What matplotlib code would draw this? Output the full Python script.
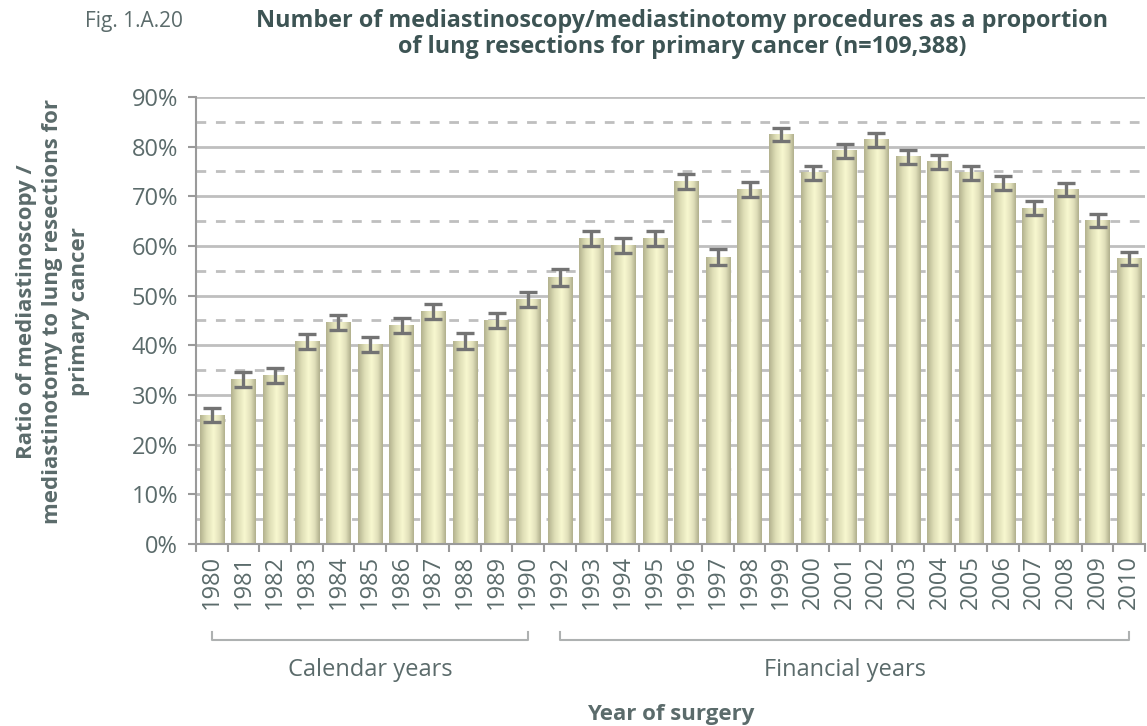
import numpy as np
import matplotlib
matplotlib.use("Agg")
import matplotlib.pyplot as plt
from matplotlib.ticker import MultipleLocator, FuncFormatter, FixedLocator
from matplotlib.colors import LinearSegmentedColormap
import matplotlib.transforms as mtransforms

# data (percent)
years = ['1980', '1981', '1982', '1983', '1984', '1985', '1986', '1987', '1988', '1989', '1990',
         '1992', '1993', '1994', '1995', '1996', '1997', '1998', '1999', '2000', '2001',
         '2002', '2003', '2004', '2005', '2006', '2007', '2008', '2009', '2010']
ratio = [25.9, 33.2, 34.0, 40.8, 44.6, 40.2, 44.0, 46.8, 40.8, 45.0, 49.2,
         53.7, 61.5, 60.1, 61.5, 73.0, 57.7, 71.4, 82.4, 74.7, 79.2,
         81.4, 78.0, 77.0, 74.7, 72.6, 67.6, 71.4, 65.1, 57.5]
err = [1.4, 1.5, 1.5, 1.55, 1.55, 1.5, 1.5, 1.6, 1.6, 1.55, 1.55,
       1.75, 1.6, 1.6, 1.6, 1.55, 1.6, 1.45, 1.35, 1.5, 1.4,
       1.4, 1.4, 1.4, 1.4, 1.4, 1.4, 1.3, 1.35, 1.3]
groups = [('Calendar years', '1980', '1990'), ('Financial years', '1992', '2010')]

title = ('Number of mediastinoscopy/mediastinotomy procedures as a proportion\n'
         'of lung resections for primary cancer (n=109,388)')
fig_label = 'Fig. 1.A.20'
ylabel = 'Ratio of mediastinoscopy /\nmediastinotomy to lung resections for\nprimary cancer'
xlabel = 'Year of surgery'

plt.rcParams['font.family'] = ['Open Sans', 'DejaVu Sans']
text_col = '#5b6b6b'
title_col = '#3d5454'
grid_col = '#bfbfbf'
axis_col = '#9a9a9a'

fig = plt.figure(figsize=(11.47, 7.26), dpi=100)
ax = fig.add_axes([0.1709, 0.2507, 0.8274, 0.6157])

x = np.arange(len(years))
vals = np.array(ratio) / 100
errs = np.array(err) / 100
width = 0.77

bars = ax.bar(x, vals, width=width, color='none', edgecolor='none', zorder=2)

# horizontal shading on each bar
cmap = LinearSegmentedColormap.from_list('barshade', [
    (0.0, '#b3b28f'), (0.25, '#dcdcb4'), (0.55, '#f8f8d0'), (0.8, '#e0dfba'), (1.0, '#b0af8c')])
grad = np.linspace(0, 1, 64).reshape(1, -1)
for b in bars:
    x0 = b.get_x()
    ax.imshow(grad, cmap=cmap, aspect='auto', zorder=2,
              extent=[x0, x0 + b.get_width(), 0, b.get_height()], interpolation='bicubic')

ax.errorbar(x, vals, yerr=errs, fmt='none', ecolor='#737373', elinewidth=2.4,
            capsize=6.5, capthick=2.4, zorder=3)

ax.set_xlim(-0.5, len(years) - 0.5)
ax.set_ylim(0, 0.9)

# y axis
ax.yaxis.set_major_locator(MultipleLocator(0.1))
ax.yaxis.set_minor_locator(MultipleLocator(0.05))
ax.yaxis.set_major_formatter(FuncFormatter(lambda v, p: f'{v * 100:.0f}%'))
ax.yaxis.grid(True, which='major', color=grid_col, lw=2, zorder=0)
ax.yaxis.grid(True, which='minor', color=grid_col, lw=2, linestyle=(0, (3.5, 3.5)), zorder=0)
ax.set_axisbelow(True)
ax.tick_params(axis='y', which='major', length=6, width=1.5, color=axis_col,
               labelsize=17, labelcolor=text_col, pad=7)
ax.tick_params(axis='y', which='minor', length=0)

# x axis: tick marks between categories, labels at centres
ax.xaxis.set_major_locator(FixedLocator(np.arange(len(years) + 1) - 0.5))
ax.xaxis.set_minor_locator(FixedLocator(x))
ax.set_xticklabels([], minor=False)
ax.set_xticklabels(years, minor=True, rotation=90)
ax.tick_params(axis='x', which='major', length=6, width=1.5, color=axis_col)
ax.tick_params(axis='x', which='minor', length=0, labelsize=17, labelcolor=text_col, pad=8)

for s in ['top', 'right']:
    ax.spines[s].set_visible(False)
for s in ['left', 'bottom']:
    ax.spines[s].set_color(axis_col)
    ax.spines[s].set_linewidth(1.5)

ax.set_ylabel(ylabel, fontsize=16, fontweight='bold', color=text_col, linespacing=1.35)
ax.yaxis.set_label_coords(-0.151, 0.519)
ax.yaxis.label.set_va('center')

# brackets for calendar / financial years
trans = mtransforms.blended_transform_factory(ax.transData, ax.transAxes)
for name, start, end in groups:
    i0 = years.index(start)
    i1 = years.index(end)
    ax.plot([i0, i0, i1, i1], [-0.197, -0.215, -0.215, -0.197], transform=trans,
            color='#aeb1b1', lw=1.5, clip_on=False)
    ax.text((i0 + i1) / 2, -0.283, name, transform=trans, ha='center', va='center',
            fontsize=17, color=text_col)

ax.text(0.5, -0.381, xlabel, transform=ax.transAxes, ha='center', va='center',
        fontsize=16, fontweight='bold', color=text_col)

fig.text(85 / 1147, 1 - 21 / 726, fig_label, ha='left', va='center', fontsize=15,
         color=text_col)
fig.text(682 / 1147, 1 - 34 / 726, title, ha='center', va='center', fontsize=16.8,
         fontweight='bold', color=title_col, linespacing=1.15)

fig.savefig('out.png', dpi=100)
